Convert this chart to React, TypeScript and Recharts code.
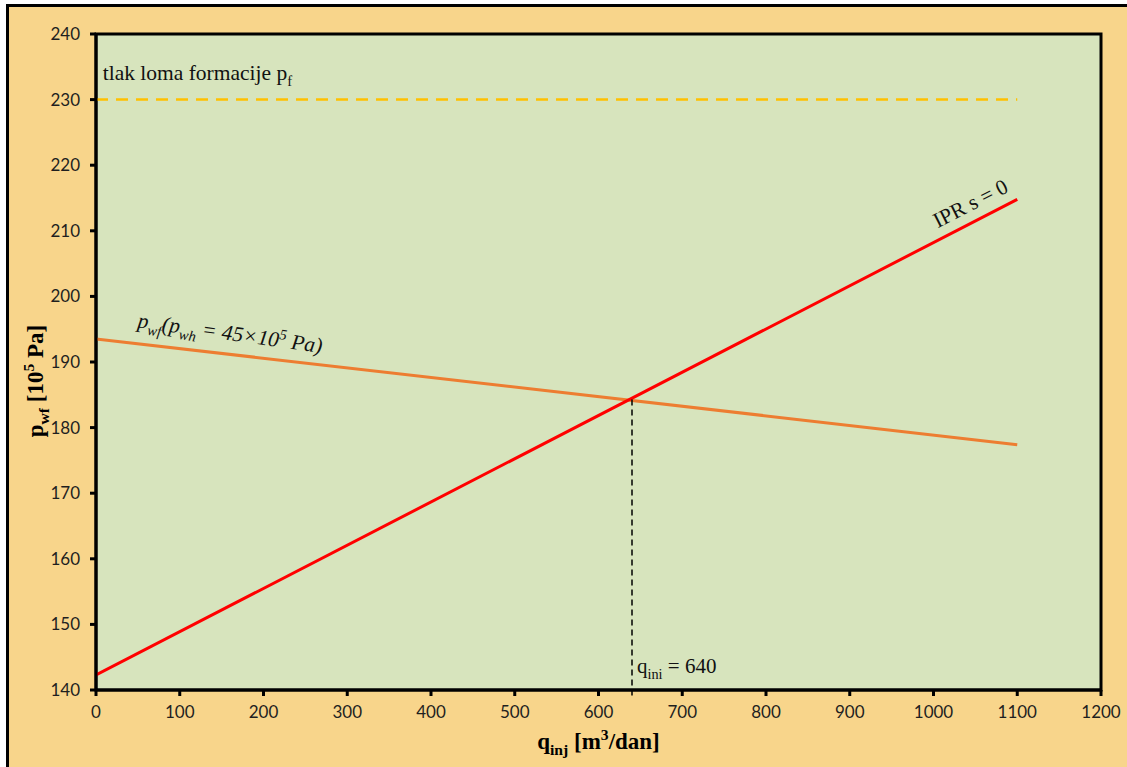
import React from "react";
import {
  LineChart,
  Line,
  XAxis,
  YAxis,
  CartesianGrid,
  ReferenceLine,
  ReferenceArea,
  ReferenceDot,
  Label,
} from "recharts";

// IPR s = 0
const iprData = [
  { q: 0, p: 142.3 },
  { q: 1100, p: 214.8 },
];

// pwf for pwh = 45e5 Pa
const pwfData = [
  { q: 0, p: 193.5 },
  { q: 1100, p: 177.4 },
];

// formation fracture pressure
const fracData = [
  { q: 0, p: 230 },
  { q: 1100, p: 230 },
];

const qInj = 640;
const pInj = 184.3;

const xTicks = [0, 100, 200, 300, 400, 500, 600, 700, 800, 900, 1000, 1100, 1200];
const yTicks = [140, 150, 160, 170, 180, 190, 200, 210, 220, 230, 240];

const SERIF = '"Liberation Serif", "Times New Roman", serif';
const TICK_FONT = "Lato, Calibri, sans-serif";

type Part = { t: string; sub?: boolean; sup?: boolean };

function parts(list: Part[], size: number) {
  let shift = 0;
  return list.map((p, i) => {
    const target = p.sub ? size * 0.28 : p.sup ? -size * 0.38 : 0;
    const dy = target - shift;
    shift = target;
    return (
      <tspan key={i} dy={dy} fontSize={p.sub || p.sup ? size * 0.68 : size}>
        {p.t}
      </tspan>
    );
  });
}

function richLabel(list: Part[], size: number, angle: number, opts: { italic?: boolean; bold?: boolean } = {}) {
  return (props: any) => {
    const vb = props.viewBox || {};
    const x = vb.x + (vb.width || 0) / 2;
    const y = vb.y + (vb.height || 0) / 2;
    return (
      <text
        x={x}
        y={y}
        fill="#111"
        fontFamily={SERIF}
        fontStyle={opts.italic ? "italic" : "normal"}
        fontWeight={opts.bold ? "bold" : "normal"}
        transform={angle ? `rotate(${angle} ${x} ${y})` : undefined}
      >
        {parts(list, size)}
      </text>
    );
  };
}

const YTitle = (props: any) => {
  const vb = props.viewBox;
  const x = vb.x + 7;
  const y = vb.y + vb.height / 2 + 19;
  return (
    <text
      x={x}
      y={y}
      fill="#000"
      fontFamily={SERIF}
      fontWeight="bold"
      textAnchor="middle"
      transform={`rotate(-90 ${x} ${y})`}
    >
      {parts([{ t: "p" }, { t: "wf", sub: true }, { t: " [10" }, { t: "5", sup: true }, { t: " Pa]" }], 23)}
    </text>
  );
};

const XTitle = (props: any) => {
  const vb = props.viewBox;
  const x = vb.x + vb.width / 2;
  const y = vb.y + 59;
  return (
    <text x={x} y={y} fill="#000" fontFamily={SERIF} fontWeight="bold" textAnchor="middle">
      {parts([{ t: "q" }, { t: "inj", sub: true }, { t: " [m" }, { t: "3", sup: true }, { t: "/dan]" }], 23)}
    </text>
  );
};

export default function App() {
  return (
    <div>
      <div
        style={{
          position: "absolute",
          left: 6,
          top: 4,
          width: 1140,
          height: 780,
          background: "#F8D58B",
          borderLeft: "3px solid #000",
          borderTop: "3px solid #000",
        }}
      />
      <div style={{ position: "absolute", left: 0, top: 0 }}>
        <LineChart width={1127} height={767} margin={{ top: 34, right: 26, bottom: 27, left: 36 }}>
          <CartesianGrid fill="#D7E4BD" horizontal={false} vertical={false} />
          <XAxis
            type="number"
            dataKey="q"
            domain={[0, 1200]}
            ticks={xTicks}
            allowDataOverflow
            height={50}
            tickSize={6}
            tickMargin={10}
            axisLine={{ stroke: "#000", strokeWidth: 3 }}
            tickLine={{ stroke: "#000", strokeWidth: 3 }}
            tick={{ fill: "#1f1f1f", fontSize: 17, fontFamily: TICK_FONT }}
            label={{ content: XTitle }}
          />
          <YAxis
            type="number"
            dataKey="p"
            domain={[140, 240]}
            ticks={yTicks}
            allowDataOverflow
            width={60}
            tickSize={6}
            tickMargin={10}
            axisLine={{ stroke: "#000", strokeWidth: 3 }}
            tickLine={{ stroke: "#000", strokeWidth: 3 }}
            tick={{ fill: "#1f1f1f", fontSize: 17, fontFamily: TICK_FONT }}
            label={{ content: YTitle }}
          />
          <ReferenceArea x1={0} x2={1200} y1={140} y2={240} fill="none" stroke="#000" strokeWidth={3} />
          <Line
            data={fracData}
            dataKey="p"
            stroke="#FFC000"
            strokeWidth={2.5}
            strokeDasharray="12 8"
            dot={false}
            isAnimationActive={false}
          />
          <Line data={pwfData} dataKey="p" stroke="#ED7D31" strokeWidth={3} dot={false} isAnimationActive={false} />
          <Line data={iprData} dataKey="p" stroke="#FF0000" strokeWidth={3} dot={false} isAnimationActive={false} />
          <ReferenceLine
            segment={[
              { x: qInj, y: pInj },
              { x: qInj, y: 139 },
            ]}
            stroke="#000"
            strokeWidth={1.5}
            strokeDasharray="6 4"
            ifOverflow="visible"
          />
          <ReferenceDot x={8} y={233} r={0} fill="none" stroke="none" ifOverflow="visible">
            <Label content={richLabel([{ t: "tlak loma formacije p" }, { t: "f", sub: true }], 21.5, 0)} />
          </ReferenceDot>
          <ReferenceDot x={49} y={195.3} r={0} fill="none" stroke="none" ifOverflow="visible">
            <Label
              content={richLabel(
                [{ t: "p" }, { t: "wf", sub: true }, { t: "(p" }, { t: "wh", sub: true }, { t: " = 45×10" }, { t: "5", sup: true }, { t: " Pa)" }],
                21.5,
                8,
                { italic: true }
              )}
            />
          </ReferenceDot>
          <ReferenceDot x={1005} y={210.4} r={0} fill="none" stroke="none" ifOverflow="visible">
            <Label content={richLabel([{ t: "IPR s = 0" }], 21.5, -27)} />
          </ReferenceDot>
          <ReferenceDot x={646} y={142.6} r={0} fill="none" stroke="none" ifOverflow="visible">
            <Label content={richLabel([{ t: "q" }, { t: "ini", sub: true }, { t: " = 640" }], 21, 0)} />
          </ReferenceDot>
        </LineChart>
      </div>
    </div>
  );
}
